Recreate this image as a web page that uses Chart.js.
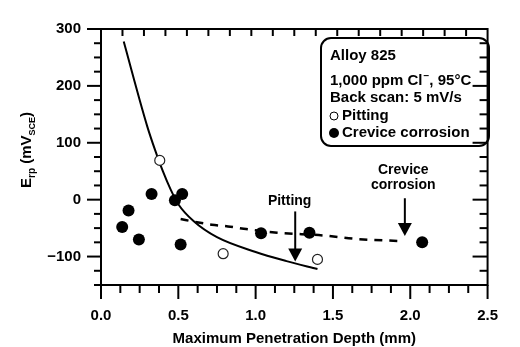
<!DOCTYPE html>
<html>
<head>
<meta charset="utf-8">
<script src="https://cdn.jsdelivr.net/npm/chart.js@4.4.0/dist/chart.umd.min.js"></script>
<style>
  html, body { margin: 0; padding: 0; background: #fff; }
  #wrap { width: 520px; height: 347px; }
</style>
</head>
<body>
<div id="wrap"><canvas id="chart" width="520" height="347"></canvas></div>
<script>
// Values: x = max penetration depth (mm), y = E_rp (mV_SCE)
const creviceX = [0.137, 0.178, 0.245, 0.327, 0.478, 0.525, 0.515, 1.035, 1.348, 2.077];
const creviceY = [-48, -19, -70, 10, -1, 10, -79, -59, -58, -75];

const pittingX = [0.38, 0.79, 1.40];
const pittingY = [69, -95, -105];

// solid trend curve (pitting)
const pitCurveX = [0.147, 0.20, 0.25, 0.30, 0.35, 0.40, 0.45, 0.50, 0.60, 0.75, 1.00, 1.20, 1.40];
const pitCurveY = [278, 225, 175, 128, 87, 50, 18, -8, -38, -66, -92, -108, -122];

// dashed trend curve (crevice corrosion)
const crevCurveX = [0.515, 0.607, 0.717, 0.821, 0.923, 1.14, 1.44, 1.65, 1.96];
const crevCurveY = [-34, -39, -44, -47, -51, -58, -63, -69, -73];

// tick labels
const xTickLabels = [0, 0.5, 1.0, 1.5, 2.0, 2.5];
const yTickLabels = [-100, 0, 100, 200, 300];

const FONT = "'Liberation Sans', Arial, Helvetica, sans-serif";
const toPts = (xs, ys) => xs.map((x, i) => ({ x: x, y: ys[i] }));

// frame, tick marks, axis titles, key box and arrows
const decorations = {
  id: 'decorations',
  afterDraw(chart) {
    const { ctx, chartArea: a, scales: { x, y } } = chart;
    ctx.save();
    ctx.strokeStyle = '#000';
    ctx.fillStyle = '#000';
    ctx.lineWidth = 2;
    ctx.strokeRect(a.left, a.top, a.right - a.left, a.bottom - a.top);

    const line = (x1, y1, x2, y2) => {
      ctx.beginPath(); ctx.moveTo(x1, y1); ctx.lineTo(x2, y2); ctx.stroke();
    };

    // bottom ticks (outward), every 0.125
    for (let i = 0; i <= 20; i++) {
      const px = x.getPixelForValue(i * 0.125);
      line(px, a.bottom, px, a.bottom + (i % 4 === 0 ? 14 : 8));
    }
    // top ticks (inward)
    for (let i = 1; i < 18; i++) {
      const px = x.getPixelForValue(i * 2.5 / 18);
      line(px, a.top, px, a.top + 7);
    }
    // left ticks (outward) and right ticks (inward), every 25
    for (let v = -150; v <= 300; v += 25) {
      const py = y.getPixelForValue(v);
      const major = v % 100 === 0;
      line(a.left - (major ? 14 : 7), py, a.left, py);
      line(a.right - (major ? 15 : 8), py, a.right, py);
    }

    // y axis title with subscripts
    const parts = [
      ['E', 15, 0], ['rp', 10, 4], [' (mV', 15, 0], ['SCE', 9, 4], [')', 15, 0]
    ];
    let total = 0;
    parts.forEach(p => { ctx.font = 'bold ' + p[1] + 'px ' + FONT; total += ctx.measureText(p[0]).width; });
    ctx.save();
    ctx.translate(31, 150);
    ctx.rotate(-Math.PI / 2);
    ctx.textBaseline = 'alphabetic';
    ctx.textAlign = 'left';
    let cx = -total / 2;
    parts.forEach(p => {
      ctx.font = 'bold ' + p[1] + 'px ' + FONT;
      ctx.fillText(p[0], cx, p[2]);
      cx += ctx.measureText(p[0]).width;
    });
    ctx.restore();

    // x axis title
    ctx.font = 'bold 15px ' + FONT;
    ctx.textAlign = 'center';
    ctx.textBaseline = 'middle';
    ctx.fillText('Maximum Penetration Depth (mm)', (a.left + a.right) / 2, 339);

    // key box
    ctx.lineWidth = 2;
    ctx.beginPath();
    ctx.roundRect(321, 38, 168, 108, 10);
    ctx.stroke();
    ctx.textAlign = 'left';
    ctx.textBaseline = 'middle';
    ctx.font = 'bold 15px ' + FONT;
    ctx.fillText('Alloy 825', 330, 56);
    let tx = 330;
    ctx.fillText('1,000 ppm Cl', tx, 81);
    tx += ctx.measureText('1,000 ppm Cl').width;
    ctx.font = 'bold 10px ' + FONT;
    ctx.fillText('\u2212', tx + 1, 76);
    tx += ctx.measureText('\u2212').width + 1;
    ctx.font = 'bold 15px ' + FONT;
    ctx.fillText(', 95\u00B0C', tx, 81);
    ctx.fillText('Back scan: 5 mV/s', 330, 98);
    ctx.fillText('Pitting', 342, 116);
    ctx.fillText('Crevice corrosion', 342, 133);
    ctx.lineWidth = 1;
    ctx.beginPath(); ctx.arc(334, 116, 4, 0, Math.PI * 2); ctx.stroke();
    ctx.beginPath(); ctx.arc(334, 133, 5, 0, Math.PI * 2); ctx.fill();

    // annotation arrows
    const arrow = (vx, v1, v2) => {
      const px = x.getPixelForValue(vx);
      const p1 = y.getPixelForValue(v1);
      const p2 = y.getPixelForValue(v2);
      ctx.lineWidth = 2;
      line(px, p1, px, p2 - 12);
      ctx.beginPath();
      ctx.moveTo(px - 7, p2 - 13);
      ctx.lineTo(px + 7, p2 - 13);
      ctx.lineTo(px, p2);
      ctx.closePath();
      ctx.fill();
    };
    ctx.font = 'bold 14px ' + FONT;
    ctx.textAlign = 'center';
    ctx.fillText('Pitting', x.getPixelForValue(1.22), y.getPixelForValue(-2.5));
    arrow(1.256, -20.7, -108.6);
    ctx.fillText('Crevice', x.getPixelForValue(1.955), y.getPixelForValue(52));
    ctx.fillText('corrosion', x.getPixelForValue(1.955), y.getPixelForValue(26));
    arrow(1.965, 2.5, -63.8);

    ctx.restore();
  }
};

new Chart(document.getElementById('chart'), {
  type: 'scatter',
  data: {
    datasets: [
      {
        label: 'Pitting trend',
        data: toPts(pitCurveX, pitCurveY),
        showLine: true,
        borderColor: '#000',
        borderWidth: 2,
        pointRadius: 0,
        cubicInterpolationMode: 'monotone',
        order: 3
      },
      {
        label: 'Crevice trend',
        data: toPts(crevCurveX, crevCurveY),
        showLine: true,
        borderColor: '#000',
        borderWidth: 2.5,
        borderDash: [8, 7],
        pointRadius: 0,
        cubicInterpolationMode: 'monotone',
        order: 2
      },
      {
        label: 'Crevice corrosion',
        data: toPts(creviceX, creviceY),
        pointRadius: 6,
        backgroundColor: '#000',
        borderColor: '#000',
        borderWidth: 0,
        order: 1
      },
      {
        label: 'Pitting',
        data: toPts(pittingX, pittingY),
        pointRadius: 5,
        backgroundColor: '#fff',
        borderColor: '#222',
        borderWidth: 1.2,
        order: 0
      }
    ]
  },
  options: {
    responsive: false,
    animation: false,
    devicePixelRatio: 1,
    layout: { padding: { top: 13, right: 11, left: 0, bottom: 0 } },
    plugins: { legend: { display: false }, tooltip: { enabled: false } },
    scales: {
      x: {
        type: 'linear',
        min: 0,
        max: 2.5,
        grid: { display: false, drawTicks: false },
        border: { display: false },
        afterBuildTicks: s => { s.ticks = xTickLabels.map(v => ({ value: v })); },
        afterFit: s => { s.height = 62; },
        ticks: {
          color: '#000',
          padding: 22,
          maxRotation: 0,
          font: { family: FONT, size: 15, weight: 'bold' },
          callback: v => Number(v).toFixed(1)
        }
      },
      y: {
        type: 'linear',
        min: -150,
        max: 300,
        grid: { display: false, drawTicks: false },
        border: { display: false },
        afterBuildTicks: s => { s.ticks = yTickLabels.map(v => ({ value: v })); },
        afterFit: s => { s.width = 101; },
        ticks: {
          color: '#000',
          padding: 20,
          font: { family: FONT, size: 15, weight: 'bold' },
          callback: v => v < 0 ? '\u2212' + Math.abs(v) : String(v)
        }
      }
    }
  },
  plugins: [decorations]
});
</script>
</body>
</html>
